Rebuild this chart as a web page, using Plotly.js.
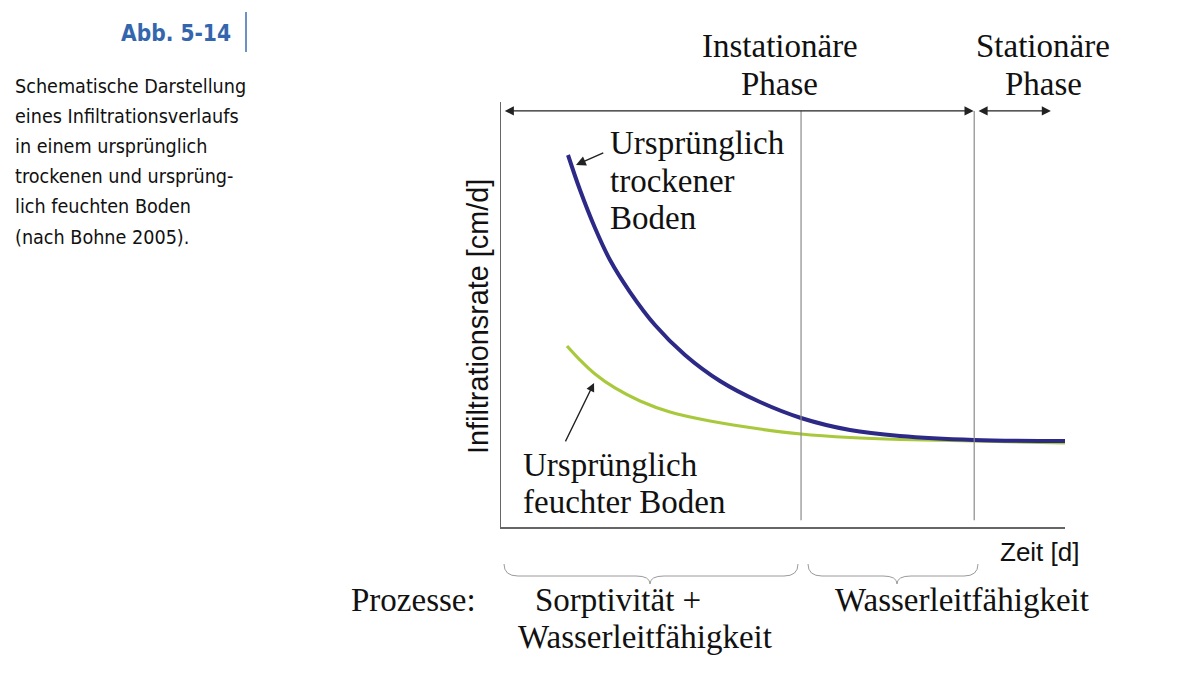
<!DOCTYPE html>
<html>
<head>
<meta charset="utf-8">
<script src="https://cdn.plot.ly/plotly-3.0.1.min.js"></script>
<style>html,body{margin:0;padding:0;background:#fff;}#chart{width:1200px;height:687px;}</style>
</head>
<body>
<div id="chart"></div>
<script>
// ---- data (schematic) ----
var timeDry = [11.88, 14.01, 16.67, 19.33, 22.87, 27.30, 32.62, 38.83, 45.92, 53.19, 61.88, 70.74, 83.87, 100];
var rateDry = [87.53, 79.29, 70.35, 62.82, 55.29, 47.53, 40.47, 34.35, 29.41, 25.65, 22.82, 21.41, 20.47, 20.24];
var timeWet = [11.70, 14.01, 16.67, 20.21, 24.65, 29.96, 37.06, 45.92, 53.19, 61.88, 70.74, 83.87, 100];
var rateWet = [42.59, 39.29, 36.00, 32.71, 29.65, 27.06, 24.94, 23.06, 21.88, 21.06, 20.59, 20.24, 19.76];
var phaseBounds = [53.2, 83.9];          // Instationär | Stationär boundary lines
var phaseTop = 97.9;
var phaseLabels = [["Instationäre", "Phase"], ["Stationäre", "Phase"]];
var curveLabels = [["Ursprünglich", "trockener", "Boden"], ["Ursprünglich", "feuchter Boden"]];
var processLabels = ["Prozesse:", "Sorptivität +", "Wasserleitfähigkeit", "Wasserleitfähigkeit"];
var captionTitle = "Abb. 5-14";
var captionLines = ["Schematische Darstellung", "eines Infiltrationsverlaufs", "in einem ursprünglich",
  "trockenen und ursprüng-", "lich feuchten Boden", "(nach Bohne 2005)."];
var xTitle = "Zeit [d]";
var yTitle = "Infiltrationsrate [cm/d]";

// ---- layout helpers ----
var L = 501, R = 1065, T = 102, B = 527;
function px(x) { return (x - L) / (R - L); }
function py(y) { return (B - y) / (B - T); }

var serif = "Liberation Serif, Times New Roman, serif";
var sans = "Liberation Sans, Arial, sans-serif";
var cond = "Liberation Sans Narrow, DejaVu Sans Condensed, Roboto Condensed, Open Sans, sans-serif";

var traces = [
  {x: timeWet, y: rateWet, mode: "lines", line: {color: "#a9c93d", width: 3.2, shape: "spline", smoothing: 1}, hoverinfo: "skip"},
  {x: timeDry, y: rateDry, mode: "lines", line: {color: "#2c2a86", width: 4, shape: "spline", smoothing: 1}, hoverinfo: "skip"}
];

var shapes = [];
phaseBounds.forEach(function (b) {
  shapes.push({type: "line", xref: "x", yref: "y", x0: b, x1: b, y0: 1.6, y1: phaseTop,
    line: {color: "#8a8a8a", width: 1.2}});
});
function brace(x0, x1, xm, yTop, yFlat, yTip) {
  var r = 14;
  return "M" + px(x0) + "," + py(yTop) +
    " Q" + px(x0) + "," + py(yFlat) + " " + px(x0 + r) + "," + py(yFlat) +
    " L" + px(xm - r) + "," + py(yFlat) +
    " Q" + px(xm) + "," + py(yFlat) + " " + px(xm) + "," + py(yTip) +
    " Q" + px(xm) + "," + py(yFlat) + " " + px(xm + r) + "," + py(yFlat) +
    " L" + px(x1 - r) + "," + py(yFlat) +
    " Q" + px(x1) + "," + py(yFlat) + " " + px(x1) + "," + py(yTop);
}
shapes.push({type: "path", xref: "paper", yref: "paper", path: brace(504, 798, 650, 564, 576, 584), line: {color: "#9a9a9a", width: 1}});
shapes.push({type: "path", xref: "paper", yref: "paper", path: brace(808, 978, 897, 564, 576, 584), line: {color: "#9a9a9a", width: 1}});
// caption separator
shapes.push({type: "line", xref: "paper", yref: "paper", x0: px(246), x1: px(246), y0: py(12), y1: py(52), line: {color: "#3b6cb3", width: 1.5}});

var ann = [];
function txt(t, x, y, size, family, anchor, color, extra) {
  var a = {text: t, xref: "paper", yref: "paper", x: px(x), y: py(y), xanchor: anchor || "left", yanchor: "middle",
    showarrow: false, font: {size: size, family: family, color: color || "#111"}};
  if (extra) for (var k in extra) a[k] = extra[k];
  ann.push(a);
}
// phase headers
txt(phaseLabels[0][0], 780, 46, 33, serif, "center");
txt(phaseLabels[0][1], 779, 84, 33, serif, "center");
txt(phaseLabels[1][0], 1043, 46, 33, serif, "center");
txt(phaseLabels[1][1], 1043, 84, 33, serif, "center");
// curve labels
txt(curveLabels[0][0], 608, 143, 33, serif);
txt(curveLabels[0][1], 608, 181, 33, serif);
txt(curveLabels[0][2], 608, 218, 33, serif);
txt(curveLabels[1][0], 521, 465, 33, serif);
txt(curveLabels[1][1], 521, 502, 33, serif);
// processes
txt(processLabels[0], 349, 600, 33, serif);
txt(processLabels[1], 533, 600, 33, serif);
txt(processLabels[2], 516, 637, 33, serif);
txt(processLabels[3], 833, 600, 33, serif);
// axis titles
txt(xTitle, 998, 552, 26, sans);
txt(yTitle, 478, 317, 28.8, sans, "center", "#111", {textangle: -90});
// caption
txt("<b>" + captionTitle + "</b>", 233, 33, 22.5, cond, "right", "#3466ad");
captionLines.forEach(function (l, i) { txt(l, 13, 86 + i * 30.2, 19.6, cond); });

// arrows
function arrow(hx, hy, tx, ty, side, w) {
  ann.push({text: "", xref: "x", yref: "y", axref: "x", ayref: "y", x: hx, y: hy, ax: tx, ay: ty,
    showarrow: true, arrowhead: 2, arrowside: side, arrowsize: 1.3, arrowwidth: w || 1.4, arrowcolor: "#222"});
}
arrow(phaseBounds[1] - 0.1, phaseTop, 0.4, phaseTop, "end+start", 1.4);
arrow(97.5, phaseTop, phaseBounds[1] + 0.5, phaseTop, "end+start", 1.4);
arrow(13.3, 85.2, 18.4, 88.2, "end", 1.5);
arrow(16.5, 33.9, 11.3, 19.8, "end", 1.3);

var layout = {
  width: 1200, height: 687,
  margin: {l: L, r: 1200 - R, t: T, b: 687 - B},
  paper_bgcolor: "#fff", plot_bgcolor: "#fff",
  showlegend: false,
  xaxis: {range: [0, 100], showline: true, linecolor: "#666", linewidth: 1.5, ticks: "", showticklabels: false, showgrid: false, zeroline: false, fixedrange: true},
  yaxis: {range: [0, 100], showline: true, linecolor: "#666", linewidth: 1.5, ticks: "", showticklabels: false, showgrid: false, zeroline: false, fixedrange: true},
  shapes: shapes,
  annotations: ann
};
Plotly.newPlot("chart", traces, layout, {displayModeBar: false, staticPlot: true});
</script>
</body>
</html>
